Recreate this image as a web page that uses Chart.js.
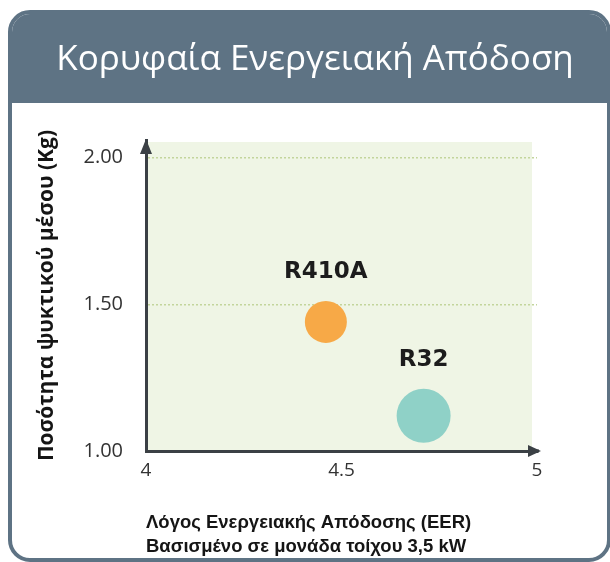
<!DOCTYPE html>
<html>
<head>
<meta charset="utf-8">
<script src="https://cdn.jsdelivr.net/npm/chart.js@4.4.1/dist/chart.umd.min.js"></script>
<style>
  html, body { margin: 0; padding: 0; background: #ffffff; }
  #wrap { position: relative; width: 610px; height: 562px; overflow: hidden; }
  #card {
    position: absolute; left: 8px; top: 10px; width: 595px; height: 544px;
    border: 4px solid #5e7384; border-radius: 22px; background: #ffffff; overflow: hidden;
  }
  #head { position: absolute; left: 0; top: 0; right: 0; height: 89px; background: #5e7384; }
  #c { position: absolute; left: 0; top: 0; }
</style>
</head>
<body>
<div id="wrap">
  <div id="card"><div id="head"></div></div>
  <canvas id="c" width="610" height="562"></canvas>
</div>
<script>
// ---- data ----
const chartTitle = 'Κορυφαία Ενεργειακή Απόδοση';
const yAxisTitle = 'Ποσότητα ψυκτικού μέσου (Kg)';
const xAxisTitle = ['Λόγος Ενεργειακής Απόδοσης (EER)', 'Βασισμένο σε μονάδα τοίχου 3,5 kW'];
const refrigerants = ['R410A', 'R32'];
const eerValues = [4.46, 4.71];
const chargeKg = [1.44, 1.12];
const xTickValues = [4, 4.5, 5];
const yTickValues = [1.0, 1.5, 2.0];
const yTickLabels = ['1.00', '1.50', '2.00'];
const xTickLabels = ['4', '4.5', '5'];

// ---- styles ----
const pointColors = ['#f7a947', '#8fd1c7'];
const pointRadii = [21, 27];
const axisColor = '#3b4045';

const bgPlugin = {
  id: 'plotBg',
  beforeDraw(chart) {
    const {ctx, chartArea: a} = chart;
    ctx.save();
    ctx.fillStyle = '#eff5e5';
    ctx.fillRect(a.left, a.top + 2, a.right - 5 - a.left, a.bottom - a.top - 2);
    ctx.restore();
  }
};

const arrowPlugin = {
  id: 'arrows',
  afterDraw(chart) {
    const {ctx, chartArea: a} = chart;
    ctx.save();
    ctx.fillStyle = axisColor;
    ctx.strokeStyle = axisColor;
    ctx.lineWidth = 3;
    ctx.beginPath();
    ctx.moveTo(a.right - 2, a.bottom);
    ctx.lineTo(a.right + 2, a.bottom);
    ctx.stroke();
    ctx.beginPath();
    ctx.moveTo(a.right + 4, a.bottom);
    ctx.lineTo(a.right - 9, a.bottom - 6);
    ctx.lineTo(a.right - 9, a.bottom + 6);
    ctx.closePath();
    ctx.fill();
    ctx.beginPath();
    ctx.moveTo(a.left, a.top - 1);
    ctx.lineTo(a.left - 6, a.top + 14);
    ctx.lineTo(a.left + 6, a.top + 14);
    ctx.closePath();
    ctx.fill();
    ctx.restore();
  }
};

const labelPlugin = {
  id: 'pointLabels',
  afterDatasetsDraw(chart) {
    const {ctx} = chart;
    ctx.save();
    ctx.font = 'bold 23px "DejaVu Sans"';
    ctx.fillStyle = '#1c1c1c';
    ctx.textAlign = 'center';
    ctx.textBaseline = 'middle';
    chart.data.datasets.forEach((ds, i) => {
      const el = chart.getDatasetMeta(i).data[0];
      if (!el) return;
      ctx.fillText(ds.label, el.x, el.y - pointRadii[i] - 29);
    });
    ctx.restore();
  }
};

const datasets = refrigerants.map((name, i) => ({
  label: name,
  data: [{x: eerValues[i], y: chargeKg[i]}],
  backgroundColor: pointColors[i],
  borderColor: pointColors[i],
  pointRadius: pointRadii[i],
  pointHoverRadius: pointRadii[i],
  borderWidth: 0
}));

new Chart(document.getElementById('c'), {
  type: 'scatter',
  data: { datasets },
  plugins: [bgPlugin, arrowPlugin, labelPlugin],
  options: {
    responsive: false,
    animation: false,
    events: [],
    layout: { padding: { left: 20, right: 0, top: 0, bottom: 0 } },
    plugins: {
      legend: { display: false },
      tooltip: { enabled: false },
      title: {
        display: true,
        text: chartTitle,
        color: '#ffffff',
        font: { family: '"Open Sans"', size: 35, weight: '400', lineHeight: 1.2 },
        padding: { top: 39, bottom: 140 - 39 - 35 * 1.2 }
      }
    },
    scales: {
      x: {
        type: 'linear',
        min: 4, max: 5,
        afterFit: s => { s.height = 111; },
        afterBuildTicks: s => { s.ticks = xTickValues.map(v => ({value: v})); },
        ticks: {
          color: '#333333',
          padding: 8,
          font: { family: '"Open Sans"', size: 19 },
          callback: (v) => { const k = xTickValues.indexOf(v); return k >= 0 ? xTickLabels[k] : ''; }
        },
        grid: { display: false, drawTicks: false },
        border: { display: true, color: axisColor, width: 3 },
        title: {
          display: true,
          text: xAxisTitle,
          align: 'start',
          color: '#151515',
          font: { family: '"Liberation Sans"', size: 18.5, weight: 'bold', lineHeight: 1.3 },
          padding: { top: 0, bottom: 3 }
        }
      },
      y: {
        type: 'linear',
        min: 1, max: 2.06,
        afterFit: s => { s.width = 126; },
        afterBuildTicks: s => { s.ticks = yTickValues.map(v => ({value: v})); },
        ticks: {
          color: '#333333',
          padding: 23,
          font: { family: '"Open Sans"', size: 20 },
          callback: (v) => { const k = yTickValues.indexOf(v); return k >= 0 ? yTickLabels[k] : ''; }
        },
        grid: {
          drawTicks: false,
          lineWidth: 1.5,
          color: c => (c.tick && c.tick.value === 1 ? 'rgba(0,0,0,0)' : '#c3d59c')
        },
        border: { display: true, color: axisColor, width: 3, dash: [2, 2] },
        title: {
          display: true,
          text: yAxisTitle,
          color: '#151515',
          font: { family: '"Open Sans"', size: 21, weight: 'bold', lineHeight: 1.2 },
          padding: { top: 14, bottom: 0 }
        }
      },
      yRight: {
        position: 'right',
        display: true,
        afterFit: s => { s.width = 73; },
        ticks: { display: false },
        grid: { display: false, drawTicks: false },
        border: { display: false }
      }
    }
  }
});
</script>
</body>
</html>
